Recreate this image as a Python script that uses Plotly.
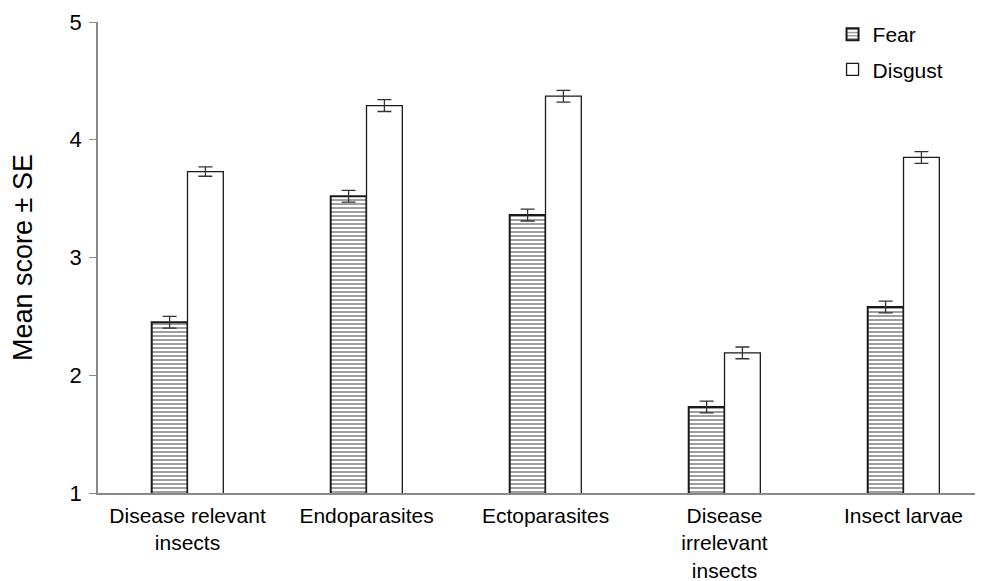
import plotly.graph_objects as go

categories = ["Disease relevant<br>insects", "Endoparasites", "Ectoparasites",
              "Disease<br>irrelevant<br>insects", "Insect larvae"]
fear = [2.45, 3.52, 3.36, 1.73, 2.58]
fear_se = [0.05, 0.05, 0.05, 0.05, 0.05]
disgust = [3.73, 4.29, 4.37, 2.19, 3.85]
disgust_se = [0.04, 0.05, 0.05, 0.05, 0.05]
y_ticks = [1, 2, 3, 4, 5]

font = "Liberation Sans, Arial, sans-serif"

fig = go.Figure()
fig.add_trace(go.Bar(
    name="Fear", x=categories, y=fear, legendgroup="f",
    marker=dict(color="white", line=dict(color="#1a1a1a", width=2),
                pattern=dict(shape="-", fgcolor="#2a2a2a", bgcolor="white", size=4, solidity=0.45)),
    error_y=dict(type="data", array=fear_se, color="#333333", thickness=1.3, width=7),
))
fig.add_trace(go.Bar(
    name="Disgust", x=categories, y=disgust, legendgroup="d",
    marker=dict(color="white", line=dict(color="#1a1a1a", width=1.3)),
    error_y=dict(type="data", array=disgust_se, color="#333333", thickness=1.3, width=7),
))

fig.update_layout(
    width=983, height=581,
    margin=dict(l=90, r=8, t=14, b=96, autoexpand=False),
    paper_bgcolor="white", plot_bgcolor="white",
    barmode="group", bargap=0.6, bargroupgap=0,
    font=dict(family=font, color="black"),
    legend=dict(x=0.83, y=1.017, xanchor="left", yanchor="top",
                font=dict(size=21, family=font), bgcolor="rgba(0,0,0,0)",
                itemwidth=30, tracegroupgap=5),
    showlegend=True,
)
fig.update_xaxes(range=[-0.5, 4.444], showline=True, linecolor="#888888", linewidth=1.5,
                 ticks="", tickfont=dict(size=21, family=font), showgrid=False,
                 ticklabelstandoff=3, automargin=False)
fig.update_yaxes(range=[1, 5], tickvals=y_ticks, showline=True, linecolor="#888888", linewidth=1.5,
                 ticks="outside", ticklen=7, tickcolor="#888888", showgrid=False, zeroline=False,
                 tickfont=dict(size=22, family=font), ticklabelstandoff=3, automargin=False,
                 title=dict(text="Mean score ± SE", font=dict(size=27, family=font), standoff=35))

fig.write_html("out.html")
